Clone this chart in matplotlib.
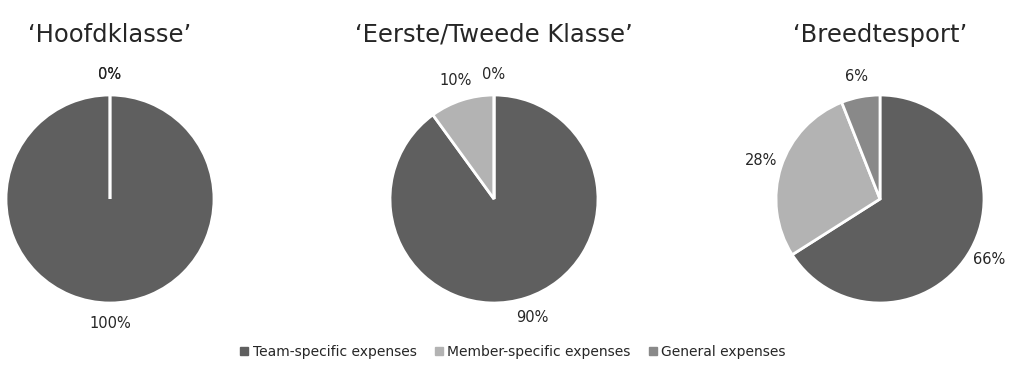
#Recreating the expenses pie charts per league level

import matplotlib.pyplot as plt

#data
categories = ["Team-specific expenses", "Member-specific expenses", "General expenses"]
leagues = ["\u2018Hoofdklasse\u2019", "\u2018Eerste/Tweede Klasse\u2019", "\u2018Breedtesport\u2019"]
hoofdklasse = [100, 0, 0]
eerste_tweede = [90, 10, 0]
breedtesport = [66, 28, 6]
colors = ["#5f5f5f", "#b3b3b3", "#898989"]

W, H = 1029, 376
R = 104  # pie radius in px
fig = plt.figure(figsize=(W / 100, H / 100), dpi=100)

centers = [110, 494, 880]
cy = H - 199
box = 320

for cx, title, vals in zip(centers, leagues, [hoofdklasse, eerste_tweede, breedtesport]):
    ax = fig.add_axes([(cx - box / 2) / W, (cy - box / 2) / H, box / W, box / H])
    wedges, texts, autotexts = ax.pie(
        vals, colors=colors, startangle=90, counterclock=False,
        autopct="%d%%", pctdistance=1.2,
        wedgeprops=dict(edgecolor="white", linewidth=2),
        textprops=dict(fontsize=10.5, color="#262626"),
    )
    lim = box / 2 / R
    ax.set_xlim(-lim, lim)
    ax.set_ylim(-lim, lim)
    ax.set_aspect("equal")
    ax.axis("off")
    fig.text(cx / W, (H - 35) / H, title, ha="center", va="center", fontsize=17.5, color="#262626")

handles = [plt.Line2D([], [], marker="s", color=c, linestyle="", markersize=5.5) for c in colors]
fig.legend(handles, categories, loc="center", bbox_to_anchor=(512 / W, (H - 352) / H),
           ncol=3, frameon=False, fontsize=10, handletextpad=0.2, columnspacing=1.2,
           handlelength=0.8, labelcolor="#262626")

plt.savefig("out.png", dpi=100)
plt.close()
